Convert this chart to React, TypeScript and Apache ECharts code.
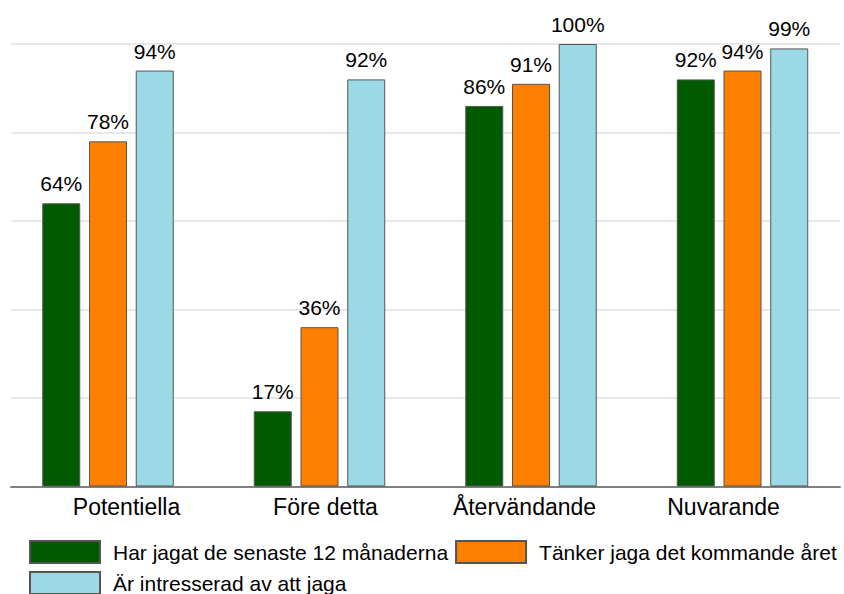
import React, { useEffect, useRef } from "react";
import * as echarts from "echarts";

const categories = ["Potentiella", "Före detta", "Återvändande", "Nuvarande"];
const seriesNames = [
  "Har jagat de senaste 12 månaderna",
  "Tänker jaga det kommande året",
  "Är intresserad av att jaga",
];
const hunted = [64, 17, 86, 92];
const planning = [78, 36, 91, 94];
const interested = [94, 92, 100, 99];
const colors = ["#005a00", "#ff8000", "#9bd9e6"];

const FONT = "'Liberation Sans', Arial, sans-serif";

export default function App() {
  const ref = useRef<HTMLDivElement>(null);
  useEffect(() => {
    if (!ref.current) return;
    const chart = echarts.init(ref.current, undefined, { renderer: "svg" });
    const values = [hunted, planning, interested];
    const gridBase = { top: 44, bottom: 107.5, containLabel: false, outerBoundsMode: "none" };
    const legendBase = {
      left: 29,
      width: 900,
      padding: 0,
      orient: "horizontal",
      itemWidth: 70,
      itemHeight: 22,
      itemGap: 7,
      icon: "rect",
      selectedMode: false,
      textStyle: { fontSize: 21, color: "#000000", fontFamily: FONT, padding: [0, 0, 0, 8] },
    };
    chart.setOption({
      animation: false,
      backgroundColor: "#ffffff",
      textStyle: { fontFamily: FONT },
      grid: [
        { ...gridBase, left: 2.25, right: -4.25 },
        { ...gridBase, left: 11, right: 4 },
        { ...gridBase, left: 27, right: 21 },
      ],
      xAxis: [
        { gridIndex: 0, type: "category", data: categories, show: false },
        {
          gridIndex: 1,
          type: "category",
          data: categories,
          axisLine: { show: true, lineStyle: { color: "#808080", width: 2 } },
          axisTick: { show: false },
          axisLabel: { show: false },
          splitLine: { show: false },
        },
        {
          gridIndex: 2,
          type: "category",
          data: categories,
          axisLine: { show: false },
          axisTick: { show: false },
          splitLine: { show: false },
          axisLabel: {
            show: true,
            margin: 9,
            color: "#000000",
            fontSize: 23,
            fontFamily: FONT,
          },
        },
      ],
      yAxis: [
        { gridIndex: 0, type: "value", min: 0, max: 100, show: false },
        {
          gridIndex: 1,
          type: "value",
          min: 0,
          max: 100,
          interval: 20,
          axisLine: { show: false },
          axisTick: { show: false },
          axisLabel: { show: false },
          splitLine: { show: true, lineStyle: { color: "#e8e8e8", width: 2 } },
        },
        { gridIndex: 2, type: "value", min: 0, max: 100, show: false },
      ],
      legend: [
        { ...legendBase, data: [seriesNames[0], seriesNames[1]], top: 540 },
        { ...legendBase, data: [seriesNames[2]], top: 571 },
      ],
      series: seriesNames.map((name, i) => ({
        name,
        type: "bar",
        xAxisIndex: 0,
        yAxisIndex: 0,
        data: values[i],
        barWidth: 38,
        barGap: "23%",
        itemStyle: { color: colors[i], borderColor: "#555555", borderWidth: 1 },
        label: {
          show: true,
          position: "top",
          distance: 9,
          formatter: "{c}%",
          color: "#000000",
          fontSize: 21,
          fontFamily: FONT,
        },
      })),
    });
    return () => chart.dispose();
  }, []);
  return (
    <div
      ref={ref}
      style={{ position: "fixed", left: 0, top: 0, width: 844, height: 594 }}
    />
  );
}
